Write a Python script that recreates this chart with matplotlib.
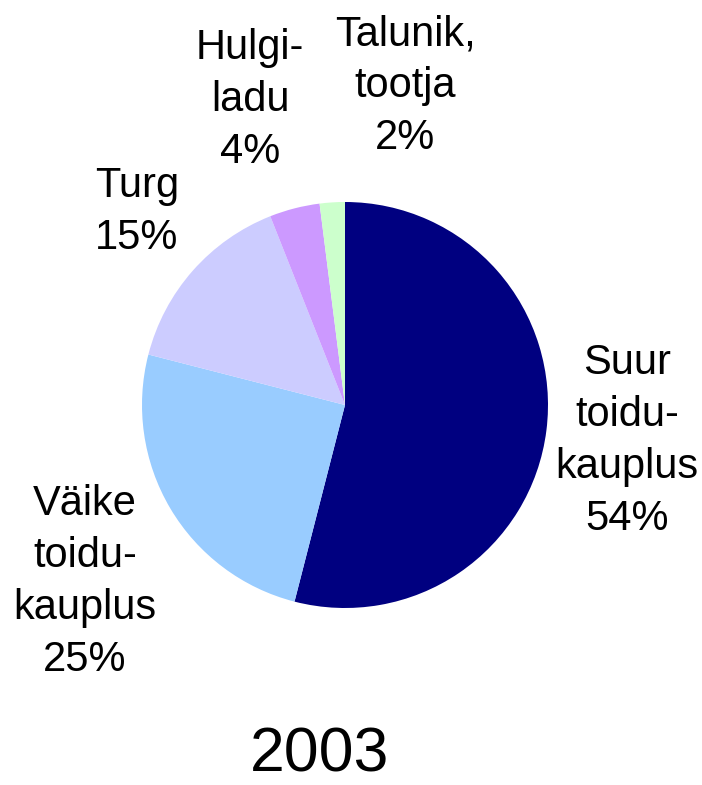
import matplotlib.pyplot as plt

plt.rcParams['font.family'] = ['Liberation Sans', 'DejaVu Sans']

categories = ['Suur\ntoidu-\nkauplus', 'Väike\ntoidu-\nkauplus', 'Turg', 'Hulgi-\nladu', 'Talunik,\ntootja']
shares = [54, 25, 15, 4, 2]
colors = ['#000080', '#99CCFF', '#CCCCFF', '#CC99FF', '#CCFFCC']
year = '2003'

# label centres in pixels (x, y from top)
label_pos = [(627, 441), (85, 582), (137, 212), (250, 100), (405, 86)]

W, H = 702, 785
fig = plt.figure(figsize=(W / 100, H / 100), dpi=100)
ax = fig.add_axes([0, 0, 1, 1])

ax.pie(shares, colors=colors, startangle=90, counterclock=False,
       center=(345, H - 405), radius=203,
       wedgeprops=dict(linewidth=0))

for name, val, (x, y) in zip(categories, shares, label_pos):
    ax.text(x, H - y, '{}\n{}%'.format(name, val), ha='center', va='center',
            fontsize=30, linespacing=1.38)

ax.text(320, H - 755, year, ha='center', va='center', fontsize=45)

ax.set_xlim(0, W)
ax.set_ylim(0, H)
ax.set_aspect('equal')
ax.axis('off')

plt.savefig('out.png', dpi=100)
